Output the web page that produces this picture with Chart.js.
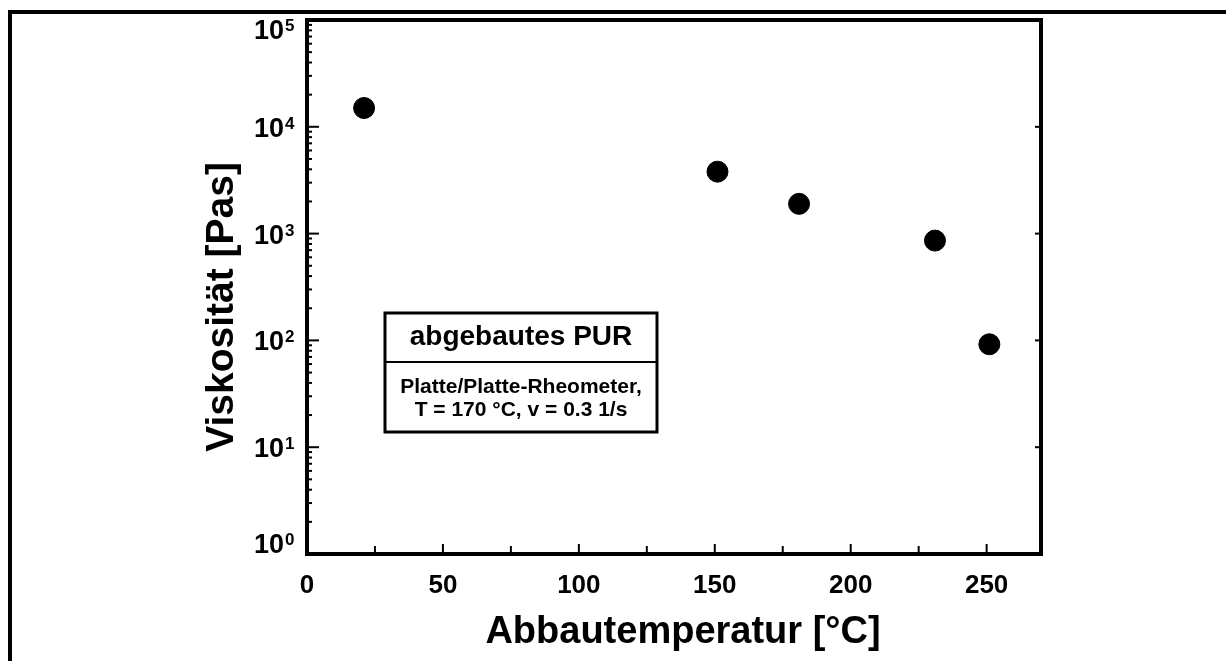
<!DOCTYPE html>
<html lang="de">
<head>
<meta charset="utf-8">
<title>Viskosität abgebautes PUR</title>
<script src="https://cdn.jsdelivr.net/npm/chart.js@4.4.1/dist/chart.umd.min.js"></script>
<style>
    html, body { margin: 0; padding: 0; overflow: hidden; background: #fff; }
    #rahmen {
        position: absolute; left: 8px; top: 10px;
        width: 3000px; height: 3000px;
        border: 4px solid #000;
    }
    #box { position: absolute; left: 0; top: 0; width: 1226px; height: 661px; }
</style>
</head>
<body>
<div id="rahmen"></div>
<div id="box"><canvas id="grafik"></canvas></div>

<script>
// ======================
// DATEN
// ======================

const abbautemperatur = [21, 151, 181, 231, 251];
const viskositaet = [15000, 3800, 1900, 860, 92];

const xTicks = [0, 50, 100, 150, 200, 250];
const yExponenten = [0, 1, 2, 3, 4, 5];

const legendeTitel = "abgebautes PUR";
const legendeText = ["Platte/Platte-Rheometer,", "T = 170 °C, v = 0.3 1/s"];

const schrift = '"Liberation Sans", Arial, sans-serif';

// ======================
// ACHSEN, TICKS, TEXTE
// ======================

const achsenPlugin = {
    id: "achsen",
    afterDraw(chart) {
        const ctx = chart.ctx;
        const a = chart.chartArea;
        const xs = chart.scales.x;
        const ys = chart.scales.y;

        ctx.save();
        ctx.strokeStyle = "#000";
        ctx.fillStyle = "#000";

        // Rahmen um die Plotfläche
        ctx.lineWidth = 4;
        ctx.strokeRect(a.left, a.top, a.right - a.left, a.bottom - a.top);

        // x-Ticks (nach innen)
        ctx.lineWidth = 2;
        for (let v = 25; v <= xs.max; v += 25) {
            const px = xs.getPixelForValue(v);
            const len = v % 50 === 0 ? 10 : 8;
            ctx.beginPath();
            ctx.moveTo(px, a.bottom);
            ctx.lineTo(px, a.bottom - len);
            ctx.stroke();
        }

        // y-Ticks (logarithmisch)
        for (let e = 0; e < 5; e++) {
            for (let m = 1; m <= 9; m++) {
                const py = ys.getPixelForValue(m * Math.pow(10, e));
                if (m === 1 && e === 0) continue;
                const len = m === 1 ? 12 : 5;
                ctx.beginPath();
                ctx.moveTo(a.left, py);
                ctx.lineTo(a.left + len, py);
                ctx.stroke();
                if (m === 1) {
                    ctx.beginPath();
                    ctx.moveTo(a.right, py);
                    ctx.lineTo(a.right - 6, py);
                    ctx.stroke();
                }
            }
        }

        // x-Beschriftung
        ctx.font = "bold 26px " + schrift;
        ctx.textAlign = "center";
        ctx.textBaseline = "middle";
        xTicks.forEach(v => {
            ctx.fillText(String(v), xs.getPixelForValue(v), 586);
        });

        // y-Beschriftung 10^n
        yExponenten.forEach(e => {
            let cy = ys.getPixelForValue(Math.pow(10, e));
            if (e === 5) cy += 9;
            if (e === 0) cy -= 11;
            ctx.textAlign = "right";
            ctx.textBaseline = "alphabetic";
            ctx.font = "bold 27px " + schrift;
            ctx.fillText("10", 284, cy + 10);
            ctx.textAlign = "left";
            ctx.font = "bold 17px " + schrift;
            ctx.fillText(String(e), 285, cy + 2);
        });

        // Achsentitel
        ctx.font = "bold 38px " + schrift;
        ctx.textAlign = "center";
        ctx.textBaseline = "alphabetic";
        ctx.fillText("Abbautemperatur [°C]", 683, 643);

        ctx.save();
        ctx.translate(233, 307);
        ctx.rotate(-Math.PI / 2);
        ctx.font = "bold 39px " + schrift;
        ctx.fillText("Viskosität [Pas]", 0, 0);
        ctx.restore();

        // Legendenkasten
        const bx = 385, by = 313, bw = 272, bh = 119;
        ctx.lineWidth = 3;
        ctx.strokeRect(bx, by, bw, bh);
        ctx.lineWidth = 2;
        ctx.beginPath();
        ctx.moveTo(bx, 362);
        ctx.lineTo(bx + bw, 362);
        ctx.stroke();

        ctx.textAlign = "center";
        ctx.textBaseline = "middle";
        ctx.font = "bold 28px " + schrift;
        ctx.fillText(legendeTitel, bx + bw / 2, 337);
        ctx.font = "bold 21px " + schrift;
        ctx.fillText(legendeText[0], bx + bw / 2, 387);
        ctx.fillText(legendeText[1], bx + bw / 2, 410);

        ctx.restore();
    }
};

// ======================
// DIAGRAMM
// ======================

new Chart(document.getElementById("grafik"), {
    type: "scatter",
    data: {
        datasets: [{
            label: legendeTitel,
            data: abbautemperatur.map((t, i) => ({ x: t, y: viskositaet[i] })),
            backgroundColor: "#000",
            borderColor: "#000",
            pointRadius: 10.5,
            pointHoverRadius: 10.5
        }]
    },
    options: {
        responsive: true,
        maintainAspectRatio: false,
        animation: false,
        layout: { padding: { left: 307, top: 20, right: 185, bottom: 107 } },
        plugins: {
            legend: { display: false },
            tooltip: { enabled: false }
        },
        scales: {
            x: { type: "linear", display: false, min: 0, max: 270 },
            y: { type: "logarithmic", display: false, min: 1, max: 100000 }
        }
    },
    plugins: [achsenPlugin]
});
</script>
</body>
</html>
